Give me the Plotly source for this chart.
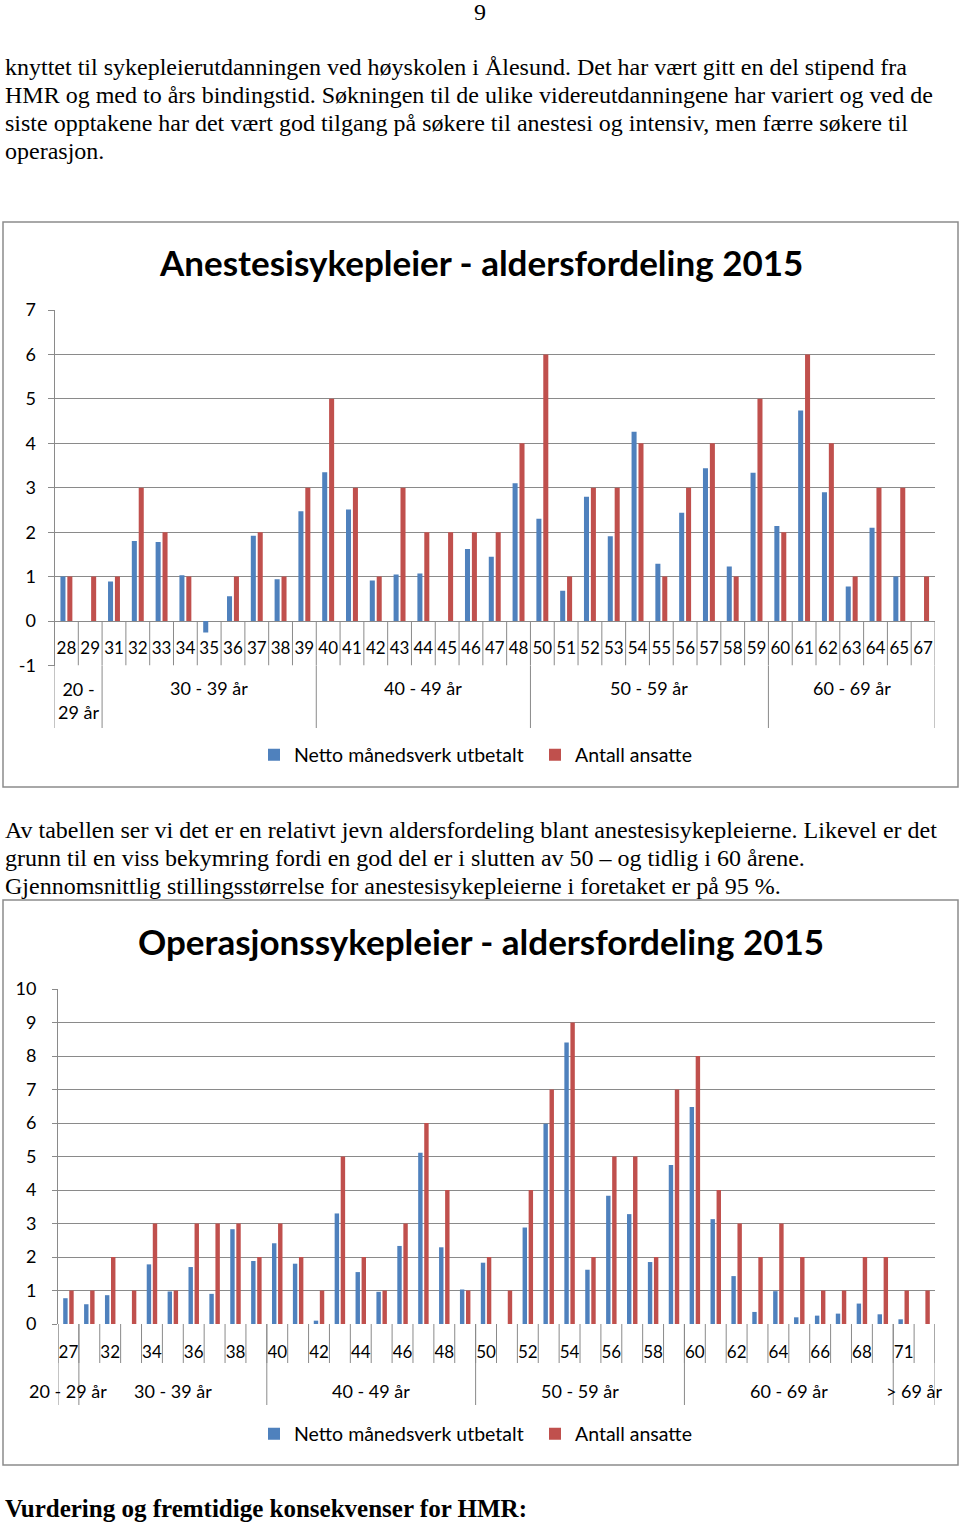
import plotly.graph_objects as go

W, H = 960, 1525

# ---------------- data ----------------
ane_ages = ["28", "29", "31", "32", "33", "34", "35", "36", "37", "38", "39",
            "40", "41", "42", "43", "44", "45", "46", "47", "48",
            "50", "51", "52", "53", "54", "55", "56", "57", "58", "59",
            "60", "61", "62", "63", "64", "65", "67"]
ane_netto = [1.0, 0, 0.89, 1.80, 1.78, 1.03, -0.26, 0.56, 1.92, 0.94, 2.47,
             3.35, 2.51, 0.91, 1.05, 1.07, 0, 1.62, 1.45, 3.1,
             2.3, 0.68, 2.8, 1.91, 4.26, 1.29, 2.44, 3.44, 1.23, 3.34,
             2.14, 4.74, 2.9, 0.78, 2.1, 1.0, 0]
ane_ansatte = [1, 1, 1, 3, 2, 1, 0, 1, 2, 1, 3,
               5, 3, 1, 3, 2, 2, 2, 2, 4,
               6, 1, 3, 3, 4, 1, 3, 4, 1, 5,
               2, 6, 4, 1, 3, 3, 1]
ane_groups = ["20 -<br>29 år", "30 - 39 år", "40 - 49 år", "50 - 59 år", "60 - 69 år"]
ane_group_sizes = [2, 9, 9, 10, 7]
ane_yticks = [-1, 0, 1, 2, 3, 4, 5, 6, 7]

op_ages = ["27", "31", "32", "33", "34", "35", "36", "37", "38", "39",
           "40", "41", "42", "43", "44", "45", "46", "47", "48", "49",
           "50", "51", "52", "53", "54", "55", "56", "57", "58", "59",
           "60", "61", "62", "63", "64", "65", "66", "67", "68", "69",
           "71", "72"]
op_netto = [0.77, 0.59, 0.86, 0, 1.78, 0.97, 1.70, 0.9, 2.83, 1.88,
            2.41, 1.8, 0.1, 3.3, 1.55, 0.96, 2.33, 5.11, 2.29, 1.03,
            1.83, 0, 2.88, 5.98, 8.4, 1.62, 3.83, 3.28, 1.85, 4.75,
            6.48, 3.13, 1.43, 0.36, 0.98, 0.2, 0.25, 0.31, 0.61, 0.29,
            0.14, 0]
op_ansatte = [1, 1, 2, 1, 3, 1, 3, 3, 3, 2,
              3, 2, 1, 5, 2, 1, 3, 6, 4, 1,
              2, 1, 4, 7, 9, 2, 5, 5, 2, 7,
              8, 4, 3, 2, 3, 2, 1, 1, 2, 2,
              1, 1]
op_groups = ["20 - 29 år", "30 - 39 år", "40 - 49 år", "50 - 59 år", "60 - 69 år", "> 69 år"]
op_group_sizes = [1, 9, 10, 10, 10, 2]
op_yticks = list(range(0, 11))

series_names = ["Netto månedsverk utbetalt", "Antall ansatte"]
series_colors = ["#4F81BD", "#C0504D"]

page_number = "9"
para1 = [
    "knyttet til sykepleierutdanningen ved høyskolen i Ålesund. Det har vært gitt en del stipend fra",
    "HMR og med to års bindingstid. Søkningen til de ulike videreutdanningene har variert og ved de",
    "siste opptakene har det vært god tilgang på søkere til anestesi og intensiv, men færre søkere til",
    "operasjon.",
]
para2 = [
    "Av tabellen ser vi det er en relativt jevn aldersfordeling blant anestesisykepleierne. Likevel er det",
    "grunn til en viss bekymring fordi en god del er i slutten av 50 – og tidlig i 60 årene.",
    "Gjennomsnittlig stillingsstørrelse for anestesisykepleierne i foretaket er på 95 %.",
]
heading = "Vurdering og fremtidige konsekvenser for HMR:"
title1 = "Anestesisykepleier - aldersfordeling 2015"
title2 = "Operasjonssykepleier - aldersfordeling 2015"

# ---------------- helpers ----------------
def py(pix):
    return 1 - pix / H

def px(pix):
    return pix / W

GRID = "#8a8a8a"
SANS = "Lato"
SERIF = "Liberation Serif"
TXT = 24

fig = go.Figure()

for vals, name, col in zip([ane_netto, ane_ansatte], series_names, series_colors):
    fig.add_trace(go.Bar(x=ane_ages, y=vals, name=name, marker_color=col,
                         marker_line_width=0, xaxis="x", yaxis="y", legend="legend"))
for vals, name, col in zip([op_netto, op_ansatte], series_names, series_colors):
    fig.add_trace(go.Bar(x=op_ages, y=vals, name=name, marker_color=col,
                         marker_line_width=0, xaxis="x2", yaxis="y2", legend="legend2"))

shapes = []
annotations = []

# chart borders
for top, bot in [(222, 787), (900, 1465)]:
    shapes.append(dict(type="rect", xref="paper", yref="paper",
                       x0=px(3), x1=px(958), y0=py(bot), y1=py(top),
                       line=dict(color="#8c8c8c", width=1.5), layer="below"))

# chart 1 category dividers
n1 = len(ane_ages)
for k in range(n1 + 1):
    shapes.append(dict(type="line", xref="x", yref="y", x0=k - 0.5, x1=k - 0.5,
                       y0=0, y1=-1, line=dict(color=GRID, width=1)))
b = -0.5
bounds1 = [b]
for s in ane_group_sizes:
    b += s
    bounds1.append(b)
for bx in bounds1:
    shapes.append(dict(type="line", xref="x", yref="paper", x0=bx, x1=bx,
                       y0=py(665.5), y1=py(728), line=dict(color=GRID, width=1)))
for i, g in enumerate(ane_groups):
    cx = (bounds1[i] + bounds1[i + 1]) / 2
    yy = 701 if "<br>" in g else 688
    annotations.append(dict(text=g, xref="x", yref="paper", x=cx, y=py(yy),
                            showarrow=False, font=dict(family=SANS, size=18, color="black"),
                            yanchor="middle", xanchor="center"))

# chart 2 category dividers
n2 = len(op_ages)
for k in range(n2 + 1):
    shapes.append(dict(type="line", xref="x2", yref="paper", x0=k - 0.5, x1=k - 0.5,
                       y0=py(1324), y1=py(1363), line=dict(color=GRID, width=1)))
b = -0.5
bounds2 = [b]
for s in op_group_sizes:
    b += s
    bounds2.append(b)
for bx in bounds2:
    shapes.append(dict(type="line", xref="x2", yref="paper", x0=bx, x1=bx,
                       y0=py(1324), y1=py(1405), line=dict(color=GRID, width=1)))
for i, g in enumerate(op_groups):
    cx = (bounds2[i] + bounds2[i + 1]) / 2
    annotations.append(dict(text=g, xref="x2", yref="paper", x=cx, y=py(1391),
                            showarrow=False, font=dict(family=SANS, size=18, color="black"),
                            yanchor="middle", xanchor="center"))

# titles
annotations.append(dict(text="<b>" + title1 + "</b>", xref="paper", yref="paper",
                        x=px(481), y=py(262), showarrow=False, xanchor="center", yanchor="middle",
                        font=dict(family=SANS, size=35, color="black")))
annotations.append(dict(text="<b>" + title2 + "</b>", xref="paper", yref="paper",
                        x=px(481), y=py(941), showarrow=False, xanchor="center", yanchor="middle",
                        font=dict(family=SANS, size=35, color="black")))

# page text
annotations.append(dict(text=page_number, xref="paper", yref="paper", x=px(480), y=py(12),
                        showarrow=False, xanchor="center", yanchor="middle",
                        font=dict(family=SERIF, size=TXT, color="black")))
for i, line in enumerate(para1):
    annotations.append(dict(text=line, xref="paper", yref="paper", x=px(3), y=py(67 + 28 * i),
                            showarrow=False, xanchor="left", yanchor="middle",
                            font=dict(family=SERIF, size=TXT, color="black")))
for i, line in enumerate(para2):
    annotations.append(dict(text=line, xref="paper", yref="paper", x=px(3), y=py(830 + 28 * i),
                            showarrow=False, xanchor="left", yanchor="middle",
                            font=dict(family=SERIF, size=TXT, color="black")))
annotations.append(dict(text="<b>" + heading + "</b>", xref="paper", yref="paper", x=px(3), y=py(1508),
                        showarrow=False, xanchor="left", yanchor="middle",
                        font=dict(family=SERIF, size=25, color="black")))

axis_font = dict(family=SANS, size=18, color="black")

fig.update_layout(
    template="none",
    width=W, height=H, margin=dict(l=0, r=0, t=0, b=0, pad=0, autoexpand=False),
    paper_bgcolor="white", plot_bgcolor="white",
    font=dict(family=SANS, color="black"),
    barmode="group", bargap=0.42, bargroupgap=0.27,
    shapes=shapes, annotations=annotations,
    xaxis=dict(domain=[px(54.5), px(935)], type="category", categoryorder="array",
               categoryarray=ane_ages, range=[-0.5, n1 - 0.5],
               anchor="free", position=py(621), showline=False, showgrid=False,
               zeroline=False, automargin=False,
               ticks="", tickfont=dict(family=SANS, size=17, color="black"),
               ticklabelstandoff=15),
    yaxis=dict(domain=[py(665.5), py(310)], range=[-1, 7],
               tickmode="array", tickvals=ane_yticks, ticktext=[str(v) for v in ane_yticks],
               showgrid=True, gridcolor=GRID, gridwidth=1, zeroline=False, automargin=False,
               showline=True, linecolor=GRID, linewidth=1, ticks="outside", ticklen=6,
               tickcolor=GRID, tickfont=axis_font, ticklabelstandoff=8, anchor="x"),
    xaxis2=dict(domain=[px(58), px(935)], type="category", categoryorder="array",
                categoryarray=op_ages, range=[-0.5, n2 - 0.5],
                tickmode="array", tickvals=op_ages[::2], ticktext=op_ages[::2],
                anchor="y2", showline=False, showgrid=False, zeroline=False, ticks="",
                automargin=False,
                tickfont=dict(family=SANS, size=17, color="black"), ticklabelstandoff=16),
    yaxis2=dict(domain=[py(1324), py(989)], range=[0, 10],
                tickmode="array", tickvals=op_yticks, ticktext=[str(v) for v in op_yticks],
                showgrid=True, gridcolor=GRID, gridwidth=1, zeroline=False, automargin=False,
                showline=True, linecolor=GRID, linewidth=1, ticks="outside", ticklen=5,
                tickcolor=GRID, tickfont=axis_font, ticklabelstandoff=12, anchor="x2"),
    legend=dict(orientation="h", x=px(254), y=py(755), xanchor="left", yanchor="middle",
                font=dict(family=SANS, size=19.5, color="black"), bgcolor="rgba(0,0,0,0)",
                itemwidth=30, traceorder="normal", entrywidth=236, entrywidthmode="pixels"),
    legend2=dict(orientation="h", x=px(254), y=py(1434), xanchor="left", yanchor="middle",
                 font=dict(family=SANS, size=19.5, color="black"), bgcolor="rgba(0,0,0,0)",
                 itemwidth=30, traceorder="normal", entrywidth=236, entrywidthmode="pixels"),
    showlegend=True,
)

fig.write_html("out.html", config={"displayModeBar": False},
               post_script="document.body.style.margin='0';document.body.style.overflow='hidden';")
